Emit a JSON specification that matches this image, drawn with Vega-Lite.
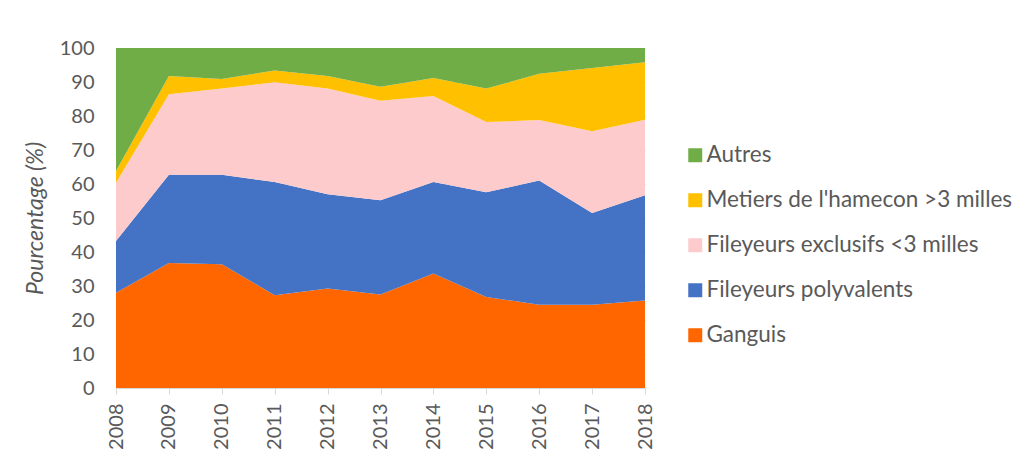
{
  "$schema": "https://vega.github.io/schema/vega-lite/v6.json",
  "autosize": "none",
  "width": 529,
  "height": 340,
  "padding": {"left": 116, "top": 48, "right": 388, "bottom": 70},
  "background": "white",
  "config": {
    "font": "Lato",
    "view": {"stroke": null},
    "axis": {"labelColor": "#595959", "titleColor": "#595959", "labelFont": "Lato", "titleFont": "Lato"},
    "legend": {"labelColor": "#595959", "labelFont": "Lato"}
  },
  "data": {
    "values": [
      {"annee": 2008, "categorie": "Ganguis", "valeur": 28.0},
      {"annee": 2009, "categorie": "Ganguis", "valeur": 36.8},
      {"annee": 2010, "categorie": "Ganguis", "valeur": 36.4},
      {"annee": 2011, "categorie": "Ganguis", "valeur": 27.3},
      {"annee": 2012, "categorie": "Ganguis", "valeur": 29.3},
      {"annee": 2013, "categorie": "Ganguis", "valeur": 27.5},
      {"annee": 2014, "categorie": "Ganguis", "valeur": 33.7},
      {"annee": 2015, "categorie": "Ganguis", "valeur": 26.8},
      {"annee": 2016, "categorie": "Ganguis", "valeur": 24.5},
      {"annee": 2017, "categorie": "Ganguis", "valeur": 24.5},
      {"annee": 2018, "categorie": "Ganguis", "valeur": 25.7},
      {"annee": 2008, "categorie": "Fileyeurs polyvalents", "valeur": 15.2},
      {"annee": 2009, "categorie": "Fileyeurs polyvalents", "valeur": 25.9},
      {"annee": 2010, "categorie": "Fileyeurs polyvalents", "valeur": 26.3},
      {"annee": 2011, "categorie": "Fileyeurs polyvalents", "valeur": 33.3},
      {"annee": 2012, "categorie": "Fileyeurs polyvalents", "valeur": 27.7},
      {"annee": 2013, "categorie": "Fileyeurs polyvalents", "valeur": 27.7},
      {"annee": 2014, "categorie": "Fileyeurs polyvalents", "valeur": 26.9},
      {"annee": 2015, "categorie": "Fileyeurs polyvalents", "valeur": 30.8},
      {"annee": 2016, "categorie": "Fileyeurs polyvalents", "valeur": 36.5},
      {"annee": 2017, "categorie": "Fileyeurs polyvalents", "valeur": 27.0},
      {"annee": 2018, "categorie": "Fileyeurs polyvalents", "valeur": 31.0},
      {"annee": 2008, "categorie": "Fileyeurs exclusifs <3 milles", "valeur": 17.2},
      {"annee": 2009, "categorie": "Fileyeurs exclusifs <3 milles", "valeur": 23.7},
      {"annee": 2010, "categorie": "Fileyeurs exclusifs <3 milles", "valeur": 25.4},
      {"annee": 2011, "categorie": "Fileyeurs exclusifs <3 milles", "valeur": 29.3},
      {"annee": 2012, "categorie": "Fileyeurs exclusifs <3 milles", "valeur": 31.1},
      {"annee": 2013, "categorie": "Fileyeurs exclusifs <3 milles", "valeur": 29.3},
      {"annee": 2014, "categorie": "Fileyeurs exclusifs <3 milles", "valeur": 25.3},
      {"annee": 2015, "categorie": "Fileyeurs exclusifs <3 milles", "valeur": 20.6},
      {"annee": 2016, "categorie": "Fileyeurs exclusifs <3 milles", "valeur": 17.8},
      {"annee": 2017, "categorie": "Fileyeurs exclusifs <3 milles", "valeur": 24.0},
      {"annee": 2018, "categorie": "Fileyeurs exclusifs <3 milles", "valeur": 22.2},
      {"annee": 2008, "categorie": "Metiers de l'hamecon >3 milles", "valeur": 3.4},
      {"annee": 2009, "categorie": "Metiers de l'hamecon >3 milles", "valeur": 5.4},
      {"annee": 2010, "categorie": "Metiers de l'hamecon >3 milles", "valeur": 2.8},
      {"annee": 2011, "categorie": "Metiers de l'hamecon >3 milles", "valeur": 3.5},
      {"annee": 2012, "categorie": "Metiers de l'hamecon >3 milles", "valeur": 3.7},
      {"annee": 2013, "categorie": "Metiers de l'hamecon >3 milles", "valeur": 4.1},
      {"annee": 2014, "categorie": "Metiers de l'hamecon >3 milles", "valeur": 5.3},
      {"annee": 2015, "categorie": "Metiers de l'hamecon >3 milles", "valeur": 9.9},
      {"annee": 2016, "categorie": "Metiers de l'hamecon >3 milles", "valeur": 13.6},
      {"annee": 2017, "categorie": "Metiers de l'hamecon >3 milles", "valeur": 18.6},
      {"annee": 2018, "categorie": "Metiers de l'hamecon >3 milles", "valeur": 16.9},
      {"annee": 2008, "categorie": "Autres", "valeur": 36.2},
      {"annee": 2009, "categorie": "Autres", "valeur": 8.2},
      {"annee": 2010, "categorie": "Autres", "valeur": 9.1},
      {"annee": 2011, "categorie": "Autres", "valeur": 6.6},
      {"annee": 2012, "categorie": "Autres", "valeur": 8.2},
      {"annee": 2013, "categorie": "Autres", "valeur": 11.4},
      {"annee": 2014, "categorie": "Autres", "valeur": 8.8},
      {"annee": 2015, "categorie": "Autres", "valeur": 11.9},
      {"annee": 2016, "categorie": "Autres", "valeur": 7.6},
      {"annee": 2017, "categorie": "Autres", "valeur": 5.9},
      {"annee": 2018, "categorie": "Autres", "valeur": 4.2}
    ]
  },
  "transform": [
    {"calculate": "indexof(['Ganguis','Fileyeurs polyvalents','Fileyeurs exclusifs <3 milles',\"Metiers de l'hamecon >3 milles\",'Autres'], datum.categorie)", "as": "ordre"}
  ],
  "mark": {"type": "area", "interpolate": "linear"},
  "encoding": {
    "x": {
      "field": "annee",
      "type": "quantitative",
      "scale": {"domain": [2008, 2018], "nice": false, "zero": false},
      "axis": {
        "title": null,
        "values": [2008, 2009, 2010, 2011, 2012, 2013, 2014, 2015, 2016, 2017, 2018],
        "format": "d",
        "labelAngle": -90,
        "labelFontSize": 20,
        "labelPadding": 9,
        "tickSize": 6,
        "tickColor": "#D9D9D9",
        "domainColor": "#D9D9D9",
        "grid": false,
        "labelFlush": false,
        "labelOverlap": false
      }
    },
    "y": {
      "field": "valeur",
      "type": "quantitative",
      "stack": "zero",
      "scale": {"domain": [0, 100], "nice": false},
      "axis": {
        "title": "Pourcentage (%)",
        "titleFontSize": 23,
        "titleFontStyle": "italic",
        "titleFontWeight": "normal",
        "titlePadding": 12,
        "values": [0, 10, 20, 30, 40, 50, 60, 70, 80, 90, 100],
        "labelFontSize": 20,
        "labelPadding": 22,
        "ticks": false,
        "domain": false,
        "grid": true,
        "gridColor": "#D9D9D9"
      }
    },
    "color": {
      "field": "categorie",
      "type": "nominal",
      "scale": {
        "domain": ["Autres", "Metiers de l'hamecon >3 milles", "Fileyeurs exclusifs <3 milles", "Fileyeurs polyvalents", "Ganguis"],
        "range": ["#70AD47", "#FFC000", "#FDCBCB", "#4472C4", "#FF6600"]
      },
      "legend": {
        "title": null,
        "orient": "none",
        "legendX": 568,
        "legendY": 96,
        "symbolType": "square",
        "symbolSize": 196,
        "symbolStrokeWidth": 0,
        "symbolOpacity": 1,
        "labelFontSize": 22.5,
        "labelOffset": 0,
        "rowPadding": 22,
        "padding": 0,
        "labelLimit": 400
      }
    },
    "order": {"field": "ordre", "type": "quantitative", "sort": "ascending"}
  }
}
